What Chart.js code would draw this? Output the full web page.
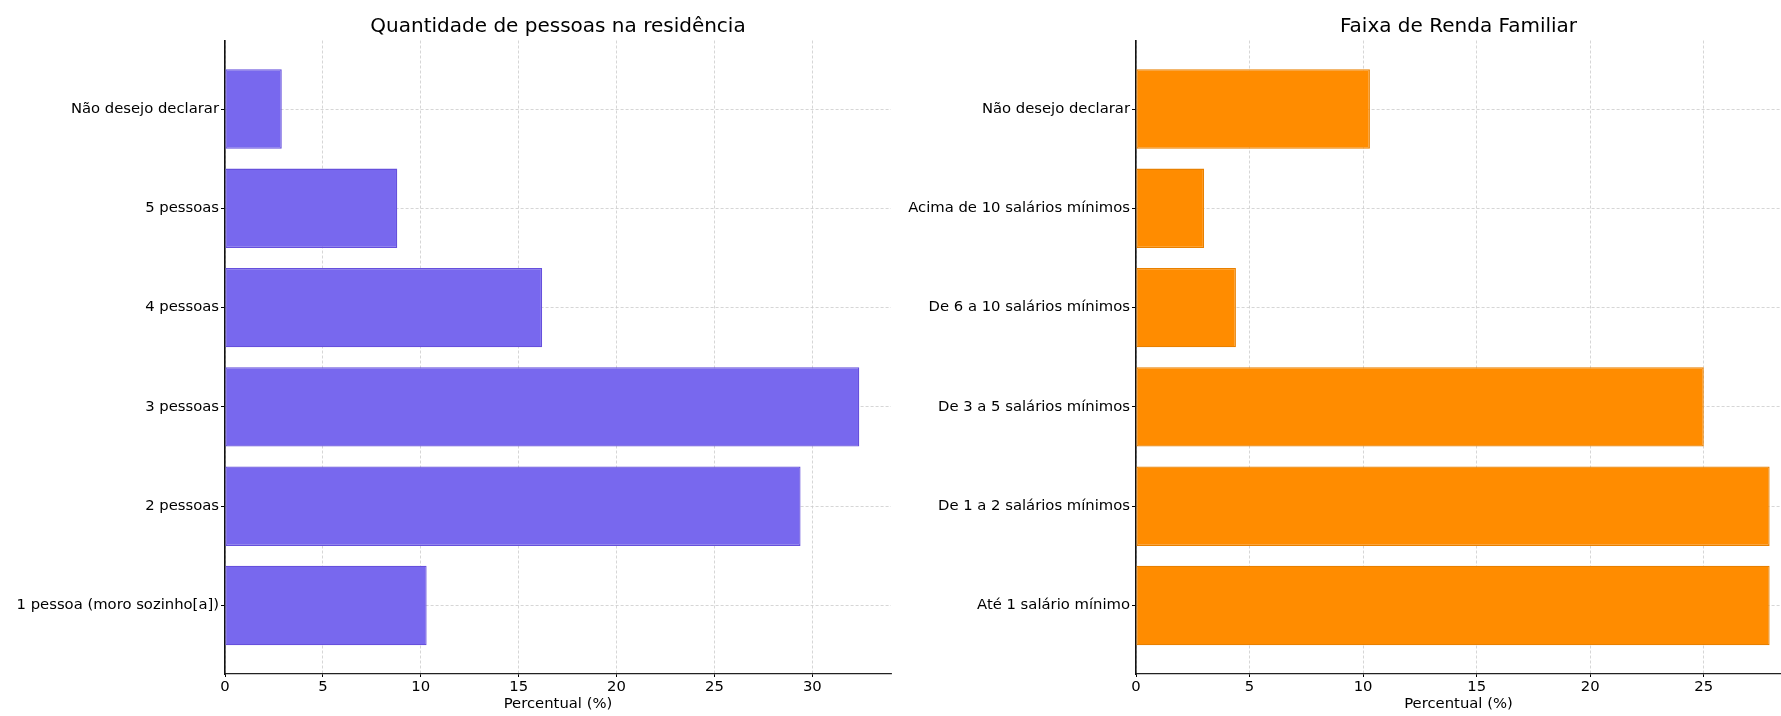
<!DOCTYPE html>
<html>
<head>
<meta charset="utf-8">
<script src="https://cdn.jsdelivr.net/npm/chart.js@4.4.1/dist/chart.umd.min.js"></script>
<style>
    html, body { margin: 0; padding: 0; background: #fff; }
    #wrap { position: relative; width: 1781px; height: 716px; overflow: hidden; }
    .panel { position: absolute; top: 0; height: 716px; }
    #leftPanel { left: 0; width: 900px; }
    #rightPanel { left: 895px; width: 886px; }
</style>
</head>
<body>
<div id="wrap">
    <div class="panel" id="leftPanel"><canvas id="leftChart"></canvas></div>
    <div class="panel" id="rightPanel"><canvas id="rightChart"></canvas></div>
</div>
<script>
// Quantidade de pessoas na residência (bottom -> top)
const peopleLabels = ['1 pessoa (moro sozinho[a])', '2 pessoas', '3 pessoas', '4 pessoas', '5 pessoas', 'Não desejo declarar'];
const peopleValues = [10.3, 29.4, 32.4, 16.2, 8.8, 2.9];
const peopleTicks = [0, 5, 10, 15, 20, 25, 30];

// Faixa de Renda Familiar (bottom -> top)
const incomeLabels = ['Até 1 salário mínimo', 'De 1 a 2 salários mínimos', 'De 3 a 5 salários mínimos', 'De 6 a 10 salários mínimos', 'Acima de 10 salários mínimos', 'Não desejo declarar'];
const incomeValues = [27.9, 27.9, 25.0, 4.4, 3.0, 10.3];
const incomeTicks = [0, 5, 10, 15, 20, 25];

const FONT = 'DejaVu Sans';
Chart.defaults.font.family = FONT;
Chart.defaults.color = '#000';

function makeChart(canvasId, cfg) {
    const ctx = document.getElementById(canvasId).getContext('2d');
    return new Chart(ctx, {
        type: 'bar',
        data: {
            datasets: [{
                data: cfg.values.map((v, i) => ({ x: v, y: i })),
                backgroundColor: cfg.fill,
                borderColor: cfg.edge,
                borderWidth: 1.3,
                borderSkipped: false,
                barPercentage: 0.8,
                categoryPercentage: 1.0
            }]
        },
        options: {
            indexAxis: 'y',
            responsive: true,
            maintainAspectRatio: false,
            animation: false,
            layout: { padding: { left: 0, right: cfg.padRight, top: 0, bottom: 0 } },
            plugins: {
                legend: { display: false },
                tooltip: { enabled: false },
                title: {
                    display: true,
                    fullSize: false,
                    text: cfg.title,
                    color: '#000',
                    font: { size: 20, weight: 'normal', family: FONT },
                    padding: { top: 15, bottom: 1.5 }
                }
            },
            scales: {
                x: {
                    type: 'linear',
                    position: 'bottom',
                    min: 0,
                    max: cfg.xMax,
                    z: 1,
                    afterBuildTicks: (scale) => { scale.ticks = cfg.xTicks.map(v => ({ value: v })); },
                    afterFit: (scale) => { scale.height = 42; },
                    ticks: { font: { size: 14.8 }, padding: 1, maxRotation: 0 },
                    grid: {
                        color: '#cccccc',
                        lineWidth: 0.8,
                        tickColor: '#000',
                        tickLength: 3,
                        tickWidth: 1,
                        tickBorderDash: []
                    },
                    border: { color: '#222', width: 1.3, dash: [3, 2] },
                    title: {
                        display: true,
                        text: 'Percentual (%)',
                        font: { size: 14.8 },
                        padding: { top: 0, bottom: 3.2 }
                    }
                },
                y: {
                    type: 'linear',
                    min: -0.69,
                    max: 5.69,
                    offset: false,
                    z: 1,
                    afterBuildTicks: (scale) => { scale.ticks = cfg.labels.map((_, i) => ({ value: i })); },
                    afterFit: (scale) => { scale.width = cfg.yWidth; },
                    ticks: {
                        font: { size: 14.8 },
                        padding: 2,
                        callback: (value) => cfg.labels[value]
                    },
                    grid: {
                        offset: false,
                        color: '#cccccc',
                        lineWidth: 0.8,
                        tickColor: '#000',
                        tickLength: 4,
                        tickWidth: 1,
                        tickBorderDash: []
                    },
                    border: { color: '#111', width: 1.6, dash: [3, 2] }
                }
            }
        }
    });
}

makeChart('leftChart', {
    title: 'Quantidade de pessoas na residência',
    labels: peopleLabels,
    values: peopleValues,
    xTicks: peopleTicks,
    xMax: 34.02,
    fill: '#7868ee',
    edge: '#6650dc',
    yWidth: 225,
    padRight: 9
});

makeChart('rightChart', {
    title: 'Faixa de Renda Familiar',
    labels: incomeLabels,
    values: incomeValues,
    xTicks: incomeTicks,
    xMax: 28.4,
    fill: '#ff8c00',
    edge: '#e88000',
    yWidth: 241,
    padRight: 0
});
</script>
</body>
</html>
